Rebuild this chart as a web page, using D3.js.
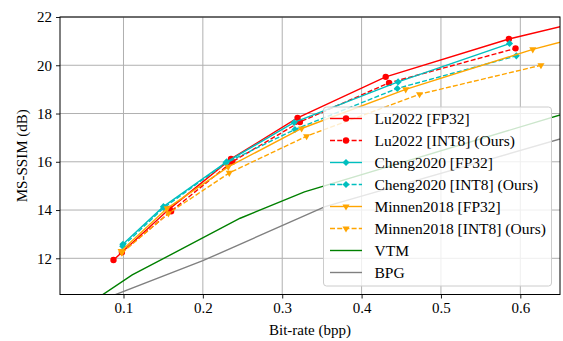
<!DOCTYPE html>
<html>
<head>
<meta charset="utf-8">
<script src="https://cdn.jsdelivr.net/npm/d3@7"></script>
<style>
  body { margin: 0; background: #fff; }
  svg text { font-family: "Liberation Serif", "DejaVu Serif", serif; fill: #000; }
</style>
</head>
<body>
<div class="canvas"></div>
<script>
// data
const luFp32X = [0.0874, 0.158, 0.2355, 0.3193, 0.4304, 0.5856, 0.72];
const luFp32Y = [11.93, 14.05, 16.12, 17.82, 19.52, 21.09, 22.15];
const luInt8X = [0.098, 0.160, 0.237, 0.3223, 0.4346, 0.594];
const luInt8Y = [12.25, 13.95, 16.0, 17.65, 19.27, 20.70];
const chengFp32X = [0.0992, 0.1503, 0.230, 0.315, 0.446, 0.5864];
const chengFp32Y = [12.58, 14.14, 16.0, 17.63, 19.31, 20.90];
const chengInt8X = [0.099, 0.151, 0.229, 0.316, 0.445, 0.595];
const chengInt8Y = [12.50, 14.10, 15.95, 17.34, 19.04, 20.39];
const minnenFp32X = [0.097, 0.155, 0.232, 0.3244, 0.4556, 0.6157, 0.75];
const minnenFp32Y = [12.30, 14.07, 15.79, 17.38, 19.0, 20.66, 21.81];
const minnenInt8X = [0.098, 0.1566, 0.2333, 0.3307, 0.473, 0.626];
const minnenInt8Y = [12.23, 13.86, 15.54, 17.06, 18.8, 20.0];
const vtmX = [0.065, 0.111, 0.247, 0.328, 0.75];
const vtmY = [10.3, 11.31, 13.66, 14.75, 18.93];
const bpgX = [0.08, 0.2, 0.354, 0.75];
const bpgY = [10.37, 11.9, 14.14, 17.89];

const xTicks = [0.1, 0.2, 0.3, 0.4, 0.5, 0.6];
const yTicks = [12, 14, 16, 18, 20, 22];

const series = [
  { name: 'Lu2022 [FP32]', xs: luFp32X, ys: luFp32Y, color: '#ff0000', dash: null, marker: 'circle' },
  { name: 'Lu2022 [INT8] (Ours)', xs: luInt8X, ys: luInt8Y, color: '#ff0000', dash: '5,2.2', marker: 'circle' },
  { name: 'Cheng2020 [FP32]', xs: chengFp32X, ys: chengFp32Y, color: '#00bfbf', dash: null, marker: 'diamond' },
  { name: 'Cheng2020 [INT8] (Ours)', xs: chengInt8X, ys: chengInt8Y, color: '#00bfbf', dash: '5,2.2', marker: 'diamond' },
  { name: 'Minnen2018 [FP32]', xs: minnenFp32X, ys: minnenFp32Y, color: '#ffa500', dash: null, marker: 'triangle' },
  { name: 'Minnen2018 [INT8] (Ours)', xs: minnenInt8X, ys: minnenInt8Y, color: '#ffa500', dash: '5,2.2', marker: 'triangle' },
  { name: 'VTM', xs: vtmX, ys: vtmY, color: '#008000', dash: null, marker: null },
  { name: 'BPG', xs: bpgX, ys: bpgY, color: '#808080', dash: null, marker: null }
];

const margin = { top: 17, right: 3, bottom: 46.5, left: 60 };
const graphWidth = 563 - margin.left - margin.right;
const graphHeight = 341 - margin.top - margin.bottom;

const svg = d3.select('.canvas')
  .append('svg')
  .attr('width', 563)
  .attr('height', 341);

const graph = svg.append('g')
  .attr('transform', `translate(${margin.left}, ${margin.top})`);

// scales
const x = d3.scaleLinear().domain([0.02, 0.65]).range([0, graphWidth]);
const y = d3.scaleLinear().domain([10.5, 22]).range([graphHeight, 0]);

// clip for the lines
graph.append('clipPath').attr('id', 'clip')
  .append('rect')
  .attr('width', graphWidth)
  .attr('height', graphHeight);

// grid
graph.append('g').selectAll('line')
  .data(xTicks)
  .enter().append('line')
  .attr('x1', d => x(d)).attr('x2', d => x(d))
  .attr('y1', 0).attr('y2', graphHeight)
  .attr('stroke', '#b0b0b0').attr('stroke-width', 1);

graph.append('g').selectAll('line')
  .data(yTicks)
  .enter().append('line')
  .attr('x1', 0).attr('x2', graphWidth)
  .attr('y1', d => y(d)).attr('y2', d => y(d))
  .attr('stroke', '#b0b0b0').attr('stroke-width', 1);

const symbolFor = (m) => {
  if (m === 'circle') return d3.symbol().type(d3.symbolCircle).size(32)();
  if (m === 'diamond') return d3.symbol().type(d3.symbolDiamond2).size(32)();
  // triangle pointing down
  return d3.symbol().type(d3.symbolTriangle2).size(36)();
};
const markerTransform = (m, px, py) =>
  m === 'triangle' ? `translate(${px},${py}) rotate(180)` : `translate(${px},${py})`;

const line = d3.line()
  .x(d => x(d[0]))
  .y(d => y(d[1]));

const plot = graph.append('g').attr('clip-path', 'url(#clip)');

series.forEach(s => {
  const pts = s.xs.map((v, i) => [v, s.ys[i]]);
  plot.append('path')
    .datum(pts)
    .attr('fill', 'none')
    .attr('stroke', s.color)
    .attr('stroke-width', 1.4)
    .attr('stroke-dasharray', s.dash)
    .attr('d', line);

  if (s.marker) {
    plot.append('g').selectAll('path')
      .data(pts)
      .enter().append('path')
      .attr('d', symbolFor(s.marker))
      .attr('transform', d => markerTransform(s.marker, x(d[0]), y(d[1])))
      .attr('fill', s.color);
  }
});

// axes
const xAxis = d3.axisBottom(x).tickValues(xTicks).tickSize(4).tickPadding(4)
  .tickFormat(d3.format('.1f'));
const yAxis = d3.axisLeft(y).tickValues(yTicks).tickSize(4).tickPadding(4);

const xAxisGroup = graph.append('g')
  .attr('transform', `translate(0, ${graphHeight})`)
  .call(xAxis);
const yAxisGroup = graph.append('g').call(yAxis);

[xAxisGroup, yAxisGroup].forEach(g => {
  g.select('.domain').remove();
  g.selectAll('line').attr('stroke', '#000').attr('stroke-width', 0.9);
  g.selectAll('text')
    .attr('font-size', 15)
    .attr('fill', '#000');
});

// frame
graph.append('rect')
  .attr('width', graphWidth)
  .attr('height', graphHeight)
  .attr('fill', 'none')
  .attr('stroke', '#000')
  .attr('stroke-width', 1);

// axis labels
svg.append('text')
  .text('Bit-rate (bpp)')
  .attr('x', margin.left + graphWidth / 2)
  .attr('y', 335)
  .attr('text-anchor', 'middle')
  .attr('font-size', 15);

svg.append('text')
  .text('MS-SSIM (dB)')
  .attr('transform', `translate(27, ${margin.top + graphHeight / 2}) rotate(-90)`)
  .attr('text-anchor', 'middle')
  .attr('font-size', 15);

// legend
const legend = svg.append('g').attr('transform', 'translate(323.5, 107)');
legend.append('rect')
  .attr('width', 228)
  .attr('height', 179)
  .attr('rx', 3)
  .attr('fill', '#fff')
  .attr('fill-opacity', 0.8)
  .attr('stroke', '#cccccc')
  .attr('stroke-width', 1);

series.forEach((s, i) => {
  const ly = 11.5 + i * 22;
  legend.append('line')
    .attr('x1', 6.5).attr('x2', 38.5)
    .attr('y1', ly).attr('y2', ly)
    .attr('stroke', s.color)
    .attr('stroke-width', 1.4)
    .attr('stroke-dasharray', s.dash);
  if (s.marker) {
    legend.append('path')
      .attr('d', symbolFor(s.marker))
      .attr('transform', markerTransform(s.marker, 22.5, ly))
      .attr('fill', s.color);
  }
  legend.append('text')
    .text(s.name)
    .attr('x', 51)
    .attr('y', ly + 5)
    .attr('font-size', 15.5);
});
</script>
</body>
</html>
